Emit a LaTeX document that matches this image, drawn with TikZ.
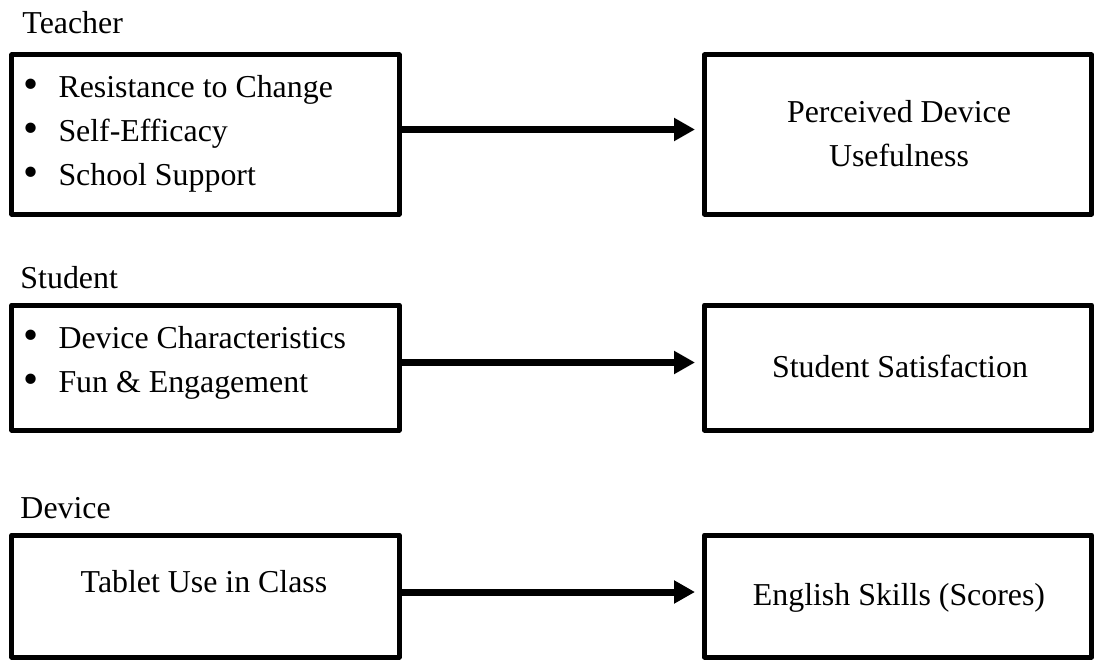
\documentclass[tikz,border=0pt]{standalone}
\usepackage{fontspec}
\setmainfont{Liberation Serif}
\usetikzlibrary{arrows.meta}
\newcommand{\listdot}{\makebox[14pt][l]{\raisebox{-0.6pt}{\scalebox{1.35}{\textbullet}}}}

\begin{document}
\begin{tikzpicture}[x=0.4pt,y=-0.4pt,
    box/.style={draw,line width=2pt,line join=round,inner sep=0pt,
      minimum width=154.8pt,minimum height=#1},
    box/.default=63.6pt,
    txt/.style={inner sep=0pt,font=\fontsize{12.75}{17.6}\selectfont},
    link/.style={line width=2.8pt,-{Triangle[length=8.4pt,width=8.8pt]},
      shorten >=2.8pt}]
  \useasboundingbox (0,0) rectangle (1095,660);
  % group labels
  \node[txt,anchor=base west] (teacherlbl) at (22,33) {Teacher};
  \node[txt,anchor=base west] (studentlbl) at (20,288) {Student};
  \node[txt,anchor=base west] (devicelbl) at (20,518) {Device};
  % boxes
  \node[box] (teacher) at (205.5,134.5) {};
  \node[box] (useful) at (898,134.5) {};
  \node[box=50pt] (student) at (205.5,367.5) {};
  \node[box=50pt] (satisfy) at (898,367.5) {};
  \node[box=48.8pt] (device) at (205.5,596) {};
  \node[box=48.8pt] (skills) at (898,596) {};
  % box texts
  \node[txt,anchor=base west] (teacherlist) at (23,97) {\begin{tabular}[t]{@{}l@{}}
    \listdot Resistance to Change\\
    \listdot Self-Efficacy\\
    \listdot School Support\end{tabular}};
  \node[txt,anchor=base] (usefultxt) at (899,122) {\begin{tabular}[t]{@{}c@{}}
    Perceived Device\\ Usefulness\end{tabular}};
  \node[txt,anchor=base west] (studentlist) at (23,348) {\begin{tabular}[t]{@{}l@{}}
    \listdot Device Characteristics\\
    \listdot Fun \& Engagement\end{tabular}};
  \node[txt,anchor=base] (satisfytxt) at (900,377) {Student Satisfaction};
  \node[txt,anchor=base] (devicetxt) at (204,592) {Tablet Use in Class};
  \node[txt,anchor=base] (skillstxt) at (899,605) {English Skills (Scores)};
  % arrows
  \draw[link] ([yshift=2pt]teacher.east) -- ([yshift=2pt]useful.west);
  \draw[link] ([yshift=2pt]student.east) -- ([yshift=2pt]satisfy.west);
  \draw[link] ([yshift=1.6pt]device.east) -- ([yshift=1.6pt]skills.west);
\end{tikzpicture}
\end{document}
